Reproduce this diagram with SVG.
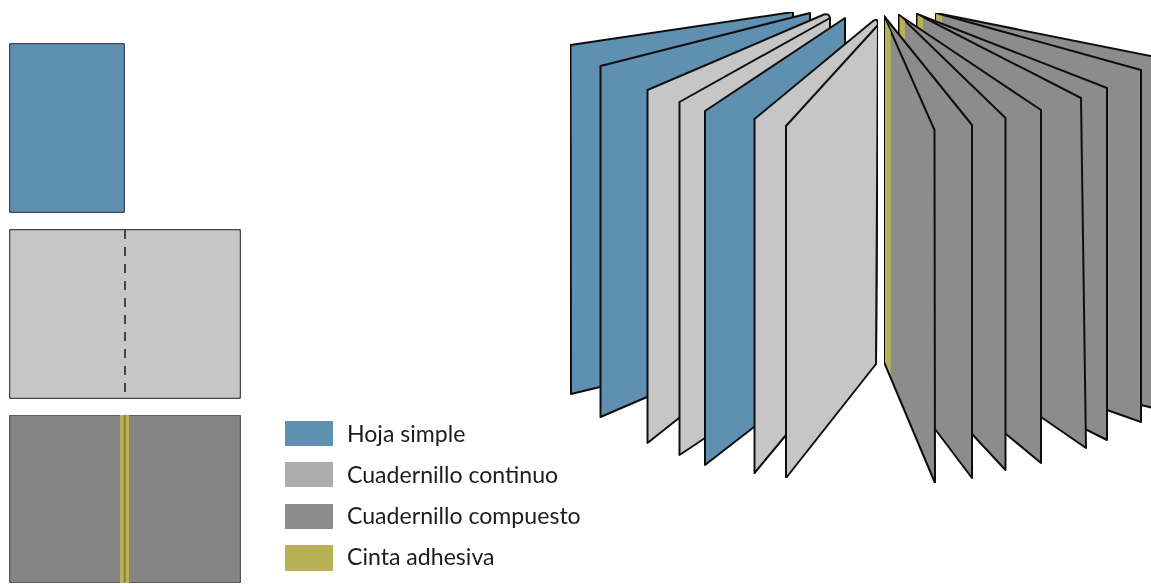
<svg xmlns="http://www.w3.org/2000/svg" width="1151" height="584" viewBox="0 0 1151 584">
<defs><filter id="soft" x="0" y="0" width="100%" height="100%"><feGaussianBlur stdDeviation="0.45"/></filter></defs>
<style>
text{font-family:Lato,"Open Sans",sans-serif;font-size:23.100px;fill:#1c1c1c}
.b{fill:#5f90b2}.l{fill:#c6c6c6}.d{fill:#8c8c8c}.y{fill:#b9b155}
.p{stroke:#111;stroke-width:2;stroke-linejoin:round}
.n{stroke:none}
.r{stroke:#3c4a55;stroke-width:1.5}
</style>
<rect width="1151" height="584" fill="#fff"/>
<g id="hoja-simple" filter="url(#soft)"><rect class="b r" x="9.500" y="43.500" width="115" height="169" rx="2"/></g>
<g id="cuadernillo-continuo" filter="url(#soft)"><rect class="l" x="9.500" y="229.500" width="231" height="169" rx="2" stroke="#444" stroke-width="1.500"/>
<line x1="125" y1="230" x2="125" y2="398" stroke="#444" stroke-width="2" stroke-dasharray="9 8"/></g>
<g id="cuadernillo-compuesto" filter="url(#soft)"><rect x="9.500" y="415" width="231" height="168" rx="2" fill="#858585" stroke="#555" stroke-width="1.500"/>
<rect x="120" y="415" width="9" height="168" fill="#b9b155"/><rect x="123.500" y="415" width="2.500" height="168" fill="#8f8a3c"/></g>
<g id="leyenda" filter="url(#soft)">
<rect class="b" x="285" y="421" width="48" height="25"/><text x="347" y="441.500">Hoja simple</text>
<rect x="285" y="462" width="48" height="25" fill="#adadad"/><text x="347" y="482.500">Cuadernillo continuo</text>
<rect class="d" x="285" y="504" width="48" height="25"/><text x="347" y="524">Cuadernillo compuesto</text>
<rect class="y" x="285" y="545" width="48" height="26"/><text x="347" y="565">Cinta adhesiva</text>
</g>
<g id="libro-izquierda" filter="url(#soft)">
<polygon class="b p" points="570.500,45 793,12 793,360 600,387 571,394"/>
<polygon class="b p" points="600.500,66 810,13 810,340 647,397 600.500,417"/>
<path class="l p" d="M647.500,90L824,14.500Q829,13 830,18L830,300L679,418L647.500,443Z"/>
<path class="l p" d="M679.500,102L830,18L830,350L705,438L679.500,455Z"/>
<polygon class="b p" points="705,111 845,18 845,340 754,427 705,465"/>
<path class="l p" d="M754.500,119L873,21Q878,17 878,25L876,364L786,435L754.500,473Z"/>
<polygon class="l p" points="786,126 878,25 876,364 786,478"/>
</g>
<g id="libro-derecha" filter="url(#soft)">
<polygon class="d p" points="936,13 1170,60 1170,412 1141,405 936,360"/>
<polygon class="d p" points="936,13 1141,70 1141,422 1107,410 936,360"/>
<polygon class="y n" points="936,14 942,16 942,36 936,36"/>
<polygon class="d p" points="917,14 1107,88 1107,440 1087,430 917,360"/>
<polygon class="d p" points="917,14 1081,98 1086,448 1041,417 917,360"/>
<polygon class="y n" points="917.500,15 923,18 923,40 917.500,40"/>
<polygon class="d p" points="899,15 1041,110 1041,463 1006,434 899,360"/>
<polygon class="d p" points="899,15 1005.500,118 1005.500,470 972,434 899,360"/>
<polygon class="y n" points="899.500,16 905,21 905,42 899.500,42"/>
<polygon class="d p" points="884,16 972,125 972,478 935,429 884,362"/>
<polygon class="d p" points="884,16 934.500,130 935,483 884,362"/>
<polygon class="y n" points="885,20 890.700,32 890.700,375 885,361"/>
</g>
</svg>
